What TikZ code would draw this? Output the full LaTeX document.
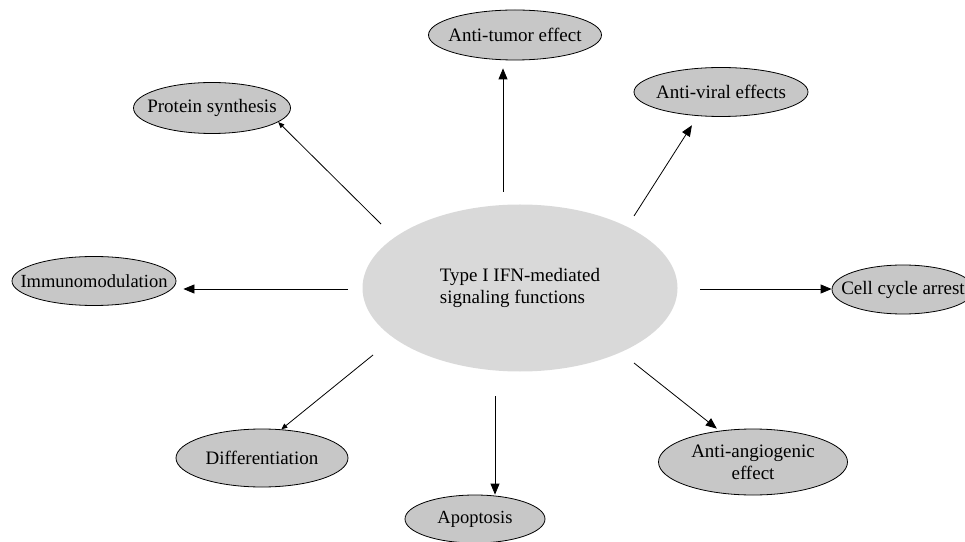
\documentclass[tikz,border=0pt]{standalone}
\usepackage{fontspec}
\setmainfont{Liberation Serif}
\usetikzlibrary{shapes.geometric,arrows.meta}

\begin{document}
\begin{tikzpicture}[x=1pt,y=1pt,font=\fontsize{19}{22}\selectfont]
% Define styles for nodes and edges
\tikzstyle{hub} = [ellipse, fill=black!15, minimum width=315pt, minimum height=167pt, align=left]
\tikzstyle{effect} = [ellipse, draw, line width=0.8pt, fill=black!22, inner sep=0pt]
\tikzstyle{arrow} = [line width=0.8pt,->,>={Triangle[length=11pt,width=9pt]}]
\tikzstyle{thinarrow} = [line width=0.8pt,->,>={Triangle[length=6pt,width=5pt]}]

\useasboundingbox (0,0) rectangle (965,541);

% Nodes
\node[hub] (hub) at (520,253) {Type I IFN-mediated\\signaling functions};
\node[effect, minimum width=173pt, minimum height=50pt, label=center:Anti-tumor effect] (tumor) at (515,506) {};
\node[effect, minimum width=157pt, minimum height=51pt, label=center:Protein synthesis] (protein) at (212,433) {};
\node[effect, minimum width=174pt, minimum height=49pt, label=center:Anti-viral effects] (viral) at (721,449) {};
\node[effect, minimum width=164pt, minimum height=49pt, label={[font=\fontsize{18.5}{22}\selectfont]center:Immunomodulation}] (immuno) at (94,260) {};
\node[effect, minimum width=142pt, minimum height=49pt, label=center:Cell cycle arrest] (cellcycle) at (903,251.5) {};
\node[effect, minimum width=172pt, minimum height=58pt, label=center:Differentiation] (diff) at (262,83) {};
\node[effect, minimum width=140pt, minimum height=48pt, label={[font=\fontsize{18.5}{22}\selectfont]center:Apoptosis}] (apop) at (475,22) {};
\node[effect, minimum width=189pt, minimum height=66pt, label={[align=center]center:Anti-angiogenic\\effect}] (angio) at (753,79) {};

% Arrow tails near the hub
\coordinate (tumortail) at (503,349);
\coordinate (proteintail) at (381,317);
\coordinate (viraltail) at (634,325);
\coordinate (immunotail) at (348,252);
\coordinate (celltail) at (700,252);
\coordinate (difftail) at (373,186);
\coordinate (apoptail) at (495,145);
\coordinate (angiotail) at (634,178);

% Edges
\draw[arrow, shorten >=8pt] (tumortail) -- (tumortail |- tumor.south);
\draw[thinarrow] (proteintail) -- (protein.-12);
\draw[arrow, shorten >=11pt] (viraltail) -- (viral.-134);
\draw[arrow, shorten >=7pt] (immunotail) -- (immunotail -| immuno.east);
\draw[arrow] (celltail) -- (celltail -| cellcycle.west);
\draw[thinarrow] (difftail) -- (diff.56);
\draw[arrow] (apoptail) -- (apoptail |- apop.north);
\draw[arrow, shorten >=3.4pt] (angiotail) -- (angio.137);
\end{tikzpicture}
\end{document}
